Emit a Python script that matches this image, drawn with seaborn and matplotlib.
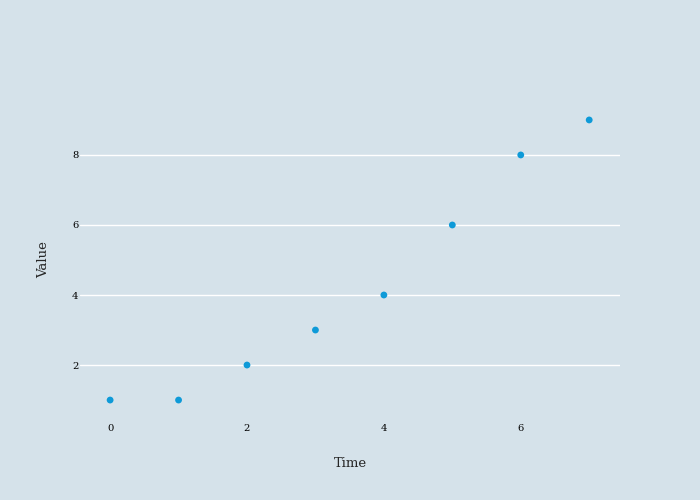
import matplotlib
matplotlib.use('Agg')
import matplotlib.pyplot as plt
import seaborn as sns
import pandas as pd

# dados
time = [0, 1, 2, 3, 4, 5, 6, 7]
value = [1, 1, 2, 3, 4, 6, 8, 9]
df = pd.DataFrame({'Time': time, 'Value': value})

bg = '#d5e2ea'
sns.set_style('white')
plt.rcParams['font.family'] = ['DejaVu Serif']

fig = plt.figure(figsize=(7, 5), dpi=100, facecolor=bg)
# área do gráfico: x 80..620 px, y 100..420 px
ax = fig.add_axes([80/700, 80/500, 540/700, 320/500], facecolor=bg)

sns.scatterplot(data=df, x='Time', y='Value', ax=ax, color='#0e9ad8',
                s=24, edgecolor='none', zorder=3)

ax.set_xlim(-0.44, 7.45)
ax.set_ylim(0.43, 9.57)
ax.set_xticks([0, 2, 4, 6])
ax.set_yticks([2, 4, 6, 8])
ax.yaxis.grid(True, color='white', linewidth=1)
ax.xaxis.grid(False)
for s in ax.spines.values():
    s.set_visible(False)
ax.tick_params(axis='both', length=0, labelsize=7.2, colors='black')
ax.tick_params(axis='x', pad=3)
ax.tick_params(axis='y', pad=1)
ax.set_xlabel('Time', fontsize=9.5, labelpad=17)
ax.set_ylabel('Value', fontsize=9.5, labelpad=16)

fig.savefig('out.png', dpi=100, facecolor=bg)
